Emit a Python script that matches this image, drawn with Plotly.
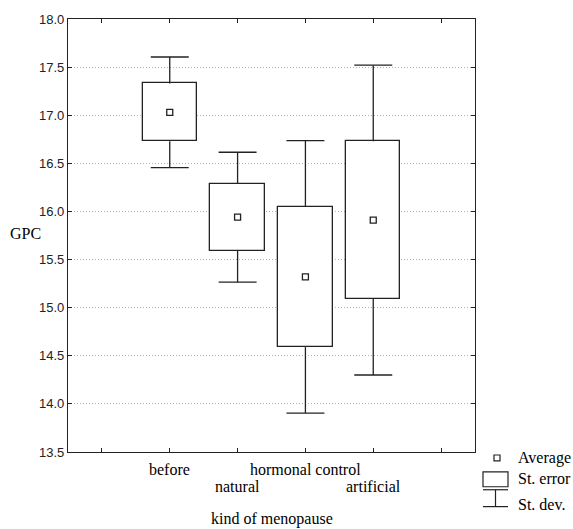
import plotly.graph_objects as go

# GPC by kind of menopause: mean, standard error, standard deviation
categories = ["before", "natural", "hormonal control", "artificial"]
means = [17.03, 15.94, 15.32, 15.91]
std_err = [0.30, 0.35, 0.73, 0.82]
std_dev = [0.575, 0.675, 1.415, 1.61]

y_ticks = [13.5, 14.0, 14.5, 15.0, 15.5, 16.0, 16.5, 17.0, 17.5, 18.0]
x_positions = [1, 2, 3, 4]
x_tick_vals = [0, 1, 2, 3, 4, 5]

INK = "#222222"
SERIF = "Liberation Serif, Times New Roman, serif"
SANS = "Liberation Sans, Arial, sans-serif"
CAP_HALF = 0.28  # half width of whisker caps, in category units

W, H = 573, 529
ML, MR, MT, MB = 68, 98, 16, 77
PW, PH = W - ML - MR, H - MT - MB


def px_x(x):
    return (x - ML) / PW


def px_y(y):
    return (H - MB - y) / PH


fig = go.Figure()

# standard-deviation whiskers: stem from box edge to mean +/- sd, plus cap
wx, wy = [], []
for x, m, s, d in zip(x_positions, means, std_err, std_dev):
    for sign in (1, -1):
        wx += [x, x, None, x - CAP_HALF, x + CAP_HALF, None]
        wy += [m + sign * s, m + sign * d, None, m + sign * d, m + sign * d, None]
fig.add_trace(go.Scatter(
    x=wx, y=wy, mode="lines", line=dict(color=INK, width=1.3),
    showlegend=False, hoverinfo="skip",
))

# standard-error boxes
fig.add_trace(go.Bar(
    x=x_positions,
    y=[2 * s for s in std_err],
    base=[m - s for m, s in zip(means, std_err)],
    width=0.8,
    marker=dict(color="white", line=dict(color=INK, width=1.3)),
    showlegend=False, hoverinfo="skip",
))

# mean markers
fig.add_trace(go.Scatter(
    x=x_positions, y=means, mode="markers",
    marker=dict(symbol="square-open", size=6, color=INK, line=dict(width=1.3)),
    showlegend=False, hoverinfo="skip",
))

fig.update_layout(
    width=W, height=H,
    margin=dict(l=ML, r=MR, t=MT, b=MB),
    paper_bgcolor="white", plot_bgcolor="white",
    bargap=0,
)

fig.update_xaxes(
    range=[-0.5, 5.5], tickmode="array", tickvals=x_tick_vals,
    ticktext=[""] * len(x_tick_vals),
    showgrid=False, zeroline=False,
    showline=True, linecolor=INK, linewidth=1.3, mirror="allticks",
    ticks="inside", ticklen=4, tickcolor=INK,
)
fig.update_yaxes(
    range=[13.5, 18.0], tickmode="array", tickvals=y_ticks,
    ticktext=[f"{v:.1f}" for v in y_ticks],
    showgrid=True, gridcolor="#b4b4b4", griddash="1px,2px", gridwidth=1,
    zeroline=False,
    showline=True, linecolor=INK, linewidth=1.3, mirror="allticks",
    ticks="inside", ticklen=4, tickcolor=INK,
    tickfont=dict(family=SANS, size=13, color="#222"),
)

# category labels, staggered on two rows under the axis
for i, (x, name) in enumerate(zip(x_positions, categories)):
    fig.add_annotation(text=name, xref="x", yref="paper", x=x,
                       y=px_y(470 if i % 2 == 0 else 487),
                       xanchor="center", yanchor="middle", showarrow=False,
                       font=dict(family=SERIF, size=16, color="black"))

# axis titles
fig.add_annotation(text="GPC", xref="paper", yref="paper", x=px_x(25), y=px_y(232),
                   xanchor="center", yanchor="middle", showarrow=False,
                   font=dict(family=SERIF, size=16, color="black"))
fig.add_annotation(text="kind of menopause", xref="paper", yref="paper",
                   x=0.5, y=px_y(519), xanchor="center", yanchor="middle",
                   showarrow=False, font=dict(family=SERIF, size=16, color="black"))

# key: average / st. error / st. dev.
line_style = dict(color=INK, width=1.2)
fig.add_shape(type="rect", xref="paper", yref="paper",
              x0=px_x(494), x1=px_x(500), y0=px_y(461), y1=px_y(455), line=line_style)
fig.add_shape(type="rect", xref="paper", yref="paper",
              x0=px_x(483), x1=px_x(508), y0=px_y(487), y1=px_y(472), line=line_style)
fig.add_shape(type="line", xref="paper", yref="paper",
              x0=px_x(483), x1=px_x(508), y0=px_y(490), y1=px_y(490), line=line_style)
fig.add_shape(type="line", xref="paper", yref="paper",
              x0=px_x(495.5), x1=px_x(495.5), y0=px_y(490), y1=px_y(507), line=line_style)
fig.add_shape(type="line", xref="paper", yref="paper",
              x0=px_x(483), x1=px_x(508), y0=px_y(507), y1=px_y(507), line=line_style)
for label, ypix in [("Average", 458), ("St. error", 479), ("St. dev.", 505)]:
    fig.add_annotation(text=label, xref="paper", yref="paper", x=px_x(516), y=px_y(ypix),
                       xanchor="left", yanchor="middle", showarrow=False,
                       font=dict(family=SERIF, size=16, color="black"))

fig.write_html("out.html")
